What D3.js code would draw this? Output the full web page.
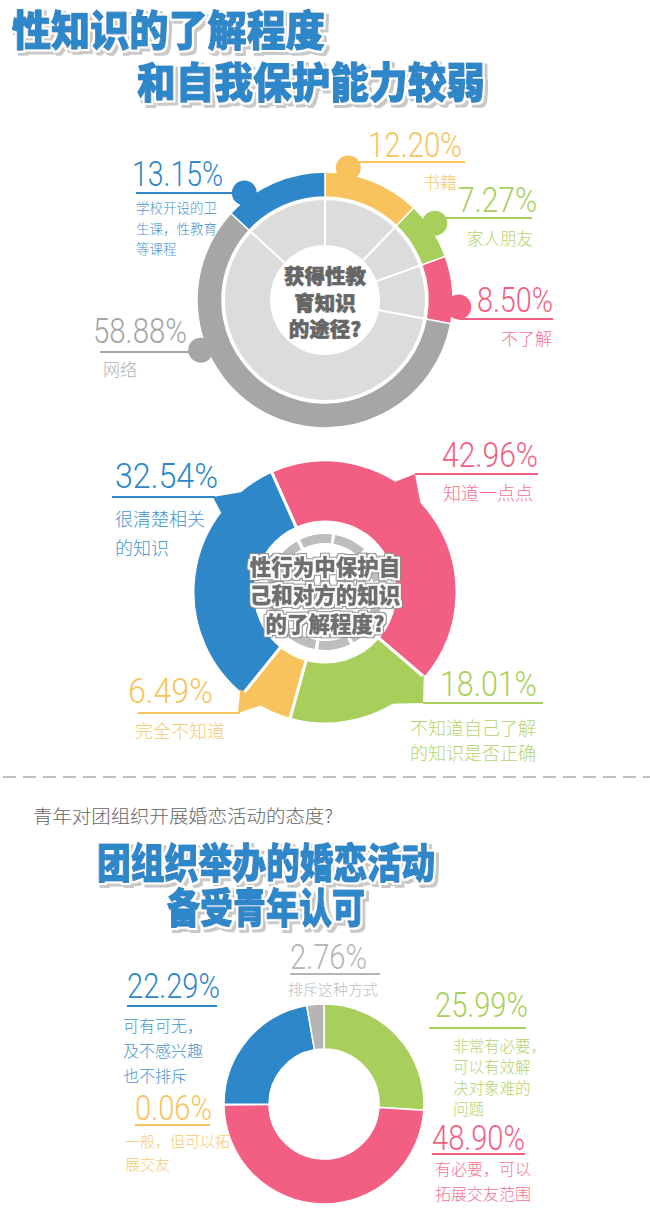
<!DOCTYPE html>
<html><head><meta charset="utf-8">
<script src="https://cdn.jsdelivr.net/npm/d3@7"></script>
<style>body{margin:0;background:#fff}svg{display:block}</style>
</head><body><svg id="c" width="650" height="1220">
<defs>
  <filter id="titleFx" x="-10%" y="-40%" width="120%" height="180%">
    <feMorphology in="SourceAlpha" operator="dilate" radius="2.2" result="d"/>
    <feOffset in="d" dx="2.5" dy="2.5" result="o"/>
    <feFlood flood-color="#c9c9c9"/><feComposite in2="o" operator="in" result="sh"/>
    <feFlood flood-color="#ffffff"/><feComposite in2="d" operator="in" result="wh"/>
    <feMerge><feMergeNode in="sh"/><feMergeNode in="wh"/><feMergeNode in="SourceGraphic"/></feMerge>
  </filter>
  <filter id="centerFx" x="-10%" y="-40%" width="120%" height="180%">
    <feMorphology in="SourceAlpha" operator="dilate" radius="2" result="d1"/>
    <feMorphology in="SourceAlpha" operator="dilate" radius="3" result="d2"/>
    <feFlood flood-color="#8a8a8a"/><feComposite in2="d2" operator="in" result="g"/>
    <feFlood flood-color="#ffffff"/><feComposite in2="d1" operator="in" result="w"/>
    <feMerge><feMergeNode in="g"/><feMergeNode in="w"/><feMergeNode in="SourceGraphic"/></feMerge>
  </filter>
</defs>
</svg>
<script>
// ---------- DATA ----------
const title1 = ["性知识的了解程度", "和自我保护能力较弱"];
const c1Center = ["获得性教", "育知识", "的途径?"];
const c1Categories = ["书籍", "家人朋友", "不了解", "网络", "学校开设的卫生课，性教育等课程"];
const c1Values = [12.20, 7.27, 8.50, 58.88, 13.15];

const c2Center = ["性行为中保护自", "己和对方的知识", "的了解程度?"];
const c2Categories = ["知道一点点", "不知道自己了解的知识是否正确", "完全不知道", "很清楚相关的知识"];
const c2Values = [42.96, 18.01, 6.49, 32.54];

const subtitle = "青年对团组织开展婚恋活动的态度?";
const title2 = ["团组织举办的婚恋活动", "备受青年认可"];
const c3Categories = ["非常有必要，可以有效解决对象难的问题", "有必要，可以拓展交友范围", "一般，但可以拓展交友", "可有可无，及不感兴趣也不排斥", "排斥这种方式"];
const c3Values = [25.99, 48.90, 0.06, 22.29, 2.76];

// ---------- STYLE ----------
const BLUE = "#2d87c9", YELLOW = "#f8c35c", GREEN = "#a8cf5c", PINK = "#f35f83", GREY = "#a6a6a6";
const c1Colors = [YELLOW, GREEN, PINK, GREY, BLUE];
const c2Colors = [PINK, GREEN, YELLOW, BLUE];
const c3Colors = [GREEN, PINK, YELLOW, BLUE, "#b5b5b5"];
const NUMFONT = "Roboto, 'Open Sans', 'DejaVu Sans', sans-serif";
const CJK = "'Noto Sans CJK SC', 'Noto Sans', sans-serif";
const svg = d3.select("#c");
const fmt = v => d3.format(".2f")(v) + "%";
const rad = d => d * Math.PI / 180;
const light = c => d3.interpolateRgb(c, "#ffffff")(0.12);

function wrap(s, n) {
  const out = []; let cur = "";
  for (const ch of s) {
    if (cur.length >= n && !"，,、。".includes(ch)) { out.push(cur); cur = ""; }
    cur += ch;
  }
  if (cur) out.push(cur);
  return out;
}

function bigTitle(lines, specs, fs) {
  lines.forEach((t, i) => {
    const s = specs[i];
    svg.append("text").attr("x", s.x).attr("y", s.cy)
      .attr("dominant-baseline", "central").attr("font-family", CJK).attr("font-weight", 900)
      .attr("font-size", fs).attr("textLength", s.w).attr("lengthAdjust", "spacingAndGlyphs")
      .attr("fill", BLUE).attr("stroke", BLUE).attr("stroke-width", 1.2).attr("stroke-linejoin", "round")
      .attr("filter", "url(#titleFx)").text(t);
  });
}

function pctText(v, L, color) {
  svg.append("text").attr("x", L.x).attr("y", L.y)
    .attr("font-family", NUMFONT).attr("font-weight", 300).attr("font-size", 35)
    .attr("fill", color).attr("textLength", L.w).attr("lengthAdjust", "spacingAndGlyphs")
    .text(fmt(v));
}

function subText(label, S, color) {
  const lines = S.wrap ? wrap(label, S.wrap) : [label];
  lines.forEach((t, i) => {
    svg.append("text").attr("x", S.x).attr("y", S.y + i * (S.lh || 0))
      .attr("dominant-baseline", "central").attr("text-anchor", S.anchor || "start")
      .attr("font-family", CJK).attr("font-weight", 300).attr("font-size", S.fs)
      .attr("fill", light(color)).text(t);
  });
}

function hline(x1, x2, y, color) {
  svg.append("line").attr("x1", x1).attr("x2", x2).attr("y1", y).attr("y2", y)
    .attr("stroke", color).attr("stroke-width", 2.2);
}

// ---------- TITLE 1 ----------
bigTitle(title1, [{x: 12, cy: 27, w: 313}, {x: 137, cy: 79, w: 348}], 42);

// ---------- CHART 1 ----------
{
  const cx = 325, cy = 300, R = 128, r = 103;
  const g = svg.append("g").attr("transform", `translate(${cx},${cy})`);
  const arcs = d3.pie().sort(null).value(d => d)(c1Values);
  const layout = [
    {num: {x: 368, y: 157, w: 94}, line: {y: 162, x2: 465}, knob: 10, sub: {x: 457, y: 181, fs: 17, anchor: "end"}},
    {num: {x: 458, y: 212, w: 79}, line: {y: 218, x2: 532}, knob: 55, sub: {x: 533, y: 238, fs: 16.5, anchor: "end"}},
    {num: {x: 477, y: 312, w: 76}, line: {y: 319, x2: 553}, knob: 93, sub: {x: 552, y: 337, fs: 17, anchor: "end"}},
    {num: {x: 93, y: 343, w: 94}, line: {y: 352, x1: 100}, knob: 248, sub: {x: 103, y: 368, fs: 17}},
    {num: {x: 132, y: 186, w: 91}, line: {y: 193, x1: 136}, knob: 323, sub: {x: 136, y: 207, fs: 13.5, wrap: 6, lh: 20.5}}
  ];
  arcs.forEach((a, i) => {
    const L = layout[i], col = c1Colors[i];
    const kx = cx + (R + 6) * Math.sin(rad(L.knob)), ky = cy - (R + 6) * Math.cos(rad(L.knob));
    hline(L.line.x1 !== undefined ? L.line.x1 : kx, L.line.x2 !== undefined ? L.line.x2 : kx, L.line.y, col);
    svg.append("circle").attr("cx", kx).attr("cy", ky).attr("r", 12.5).attr("fill", col);
  });
  g.selectAll("path.in").data(arcs).join("path").attr("class", "in")
    .attr("d", d3.arc().innerRadius(54).outerRadius(101))
    .attr("fill", "#dcdcdc").attr("stroke", "#fff").attr("stroke-width", 2);
  g.selectAll("path.out").data(arcs).join("path").attr("class", "out")
    .attr("d", d3.arc().innerRadius(r).outerRadius(R))
    .attr("fill", (d, i) => c1Colors[i]).attr("stroke", "#fff").attr("stroke-width", 1.5);
  arcs.forEach((a, i) => {
    pctText(a.data, layout[i].num, c1Colors[i]);
    subText(c1Categories[i], layout[i].sub, c1Colors[i]);
  });
  c1Center.forEach((t, i) => {
    svg.append("text").attr("x", cx).attr("y", 275 + i * 26.5).attr("text-anchor", "middle")
      .attr("dominant-baseline", "central").attr("font-family", CJK).attr("font-weight", 900)
      .attr("font-size", 20.5).attr("fill", "#666").attr("stroke", "#666").attr("stroke-width", 0.6).text(t);
  });
}

// ---------- CHART 2 ----------
{
  const cx = 325, cy = 592, R = 132, r = 70;
  const start = rad(-24);
  const g = svg.append("g").attr("transform", `translate(${cx},${cy})`);
  const arcs = d3.pie().sort(null).value(d => d).startAngle(start).endAngle(start + 2 * Math.PI)(c2Values);
  const layout = [
    {num: {x: 442, y: 467, w: 96}, line: {y: 474, x1: 415, x2: 538}, tab: {a: 40, w: 8, tip: [415, 474]}, sub: {x: 443, y: 492, fs: 18}},
    {num: {x: 440, y: 696, w: 97}, line: {y: 703, x1: 423, x2: 543}, tab: {a: 140, w: 10, tip: [423, 703]}, sub: {x: 410, y: 727, fs: 18, wrap: 7, lh: 25}},
    {num: {x: 128, y: 703, w: 85}, line: {y: 713, x1: 138, x2: 240}, tab: {a: 215, w: 6, tip: [238, 713]}, sub: {x: 135, y: 730, fs: 18}},
    {num: {x: 115, y: 488, w: 103}, line: {y: 497, x1: 112, x2: 215}, tab: {a: 314, w: 7, tip: [213, 497]}, sub: {x: 115, y: 518, fs: 18, wrap: 5, lh: 29}}
  ];
  arcs.forEach((a, i) => {
    const L = layout[i], col = c2Colors[i];
    hline(L.line.x1, L.line.x2, L.line.y, col);
    const p = ang => [cx + (R - 3) * Math.sin(rad(ang)), cy - (R - 3) * Math.cos(rad(ang))];
    svg.append("polygon").attr("points", [p(L.tab.a - L.tab.w), L.tab.tip, p(L.tab.a + L.tab.w)].map(q => q.join(",")).join(" "))
      .attr("fill", col);
  });
  g.selectAll("path").data(arcs).join("path")
    .attr("d", d3.arc().innerRadius(r).outerRadius(R))
    .attr("fill", (d, i) => c2Colors[i]).attr("stroke", "#fff").attr("stroke-width", 3);
  const rr = 53.5, circ = 2 * Math.PI * rr;
  g.append("circle").attr("r", rr).attr("fill", "none").attr("stroke", "#bdbdbd").attr("stroke-width", 9)
    .attr("stroke-dasharray", `${circ / 10 - 3.5},3.5`).attr("transform", "rotate(-80)");
  arcs.forEach((a, i) => {
    pctText(a.data, layout[i].num, c2Colors[i]);
    subText(c2Categories[i], layout[i].sub, c2Colors[i]);
  });
  c2Center.forEach((t, i) => {
    svg.append("text").attr("x", cx).attr("y", 565 + i * 28.5).attr("text-anchor", "middle")
      .attr("dominant-baseline", "central").attr("font-family", CJK).attr("font-weight", 900)
      .attr("font-size", 21.5).attr("fill", "#6e6e6e").attr("stroke", "#6e6e6e").attr("stroke-width", 0.5)
      .attr("filter", "url(#centerFx)").text(t);
  });
}

// ---------- DIVIDER ----------
svg.append("line").attr("x1", 3).attr("x2", 650).attr("y1", 777).attr("y2", 777)
  .attr("stroke", "#aaa").attr("stroke-width", 1.6).attr("stroke-dasharray", "13,7");

svg.append("text").attr("x", 33).attr("y", 815).attr("dominant-baseline", "central")
  .attr("font-family", CJK).attr("font-weight", 300).attr("font-size", 18).attr("fill", "#666")
  .attr("textLength", 300).attr("lengthAdjust", "spacingAndGlyphs").text(subtitle);

bigTitle(title2, [{x: 97, cy: 860, w: 338}, {x: 167, cy: 905, w: 198}], 41);

// ---------- CHART 3 ----------
{
  const cx = 324, cy = 1104, R = 100, r = 55;
  const g = svg.append("g").attr("transform", `translate(${cx},${cy})`);
  const arcs = d3.pie().sort(null).value(d => d)(c3Values);
  const layout = [
    {num: {x: 435, y: 1017, w: 93}, line: {y: 1028, x1: 429, x2: 526}, sub: {x: 453, y: 1045, fs: 15.5, wrap: 5, lh: 21}},
    {num: {x: 432, y: 1150, w: 93}, line: {y: 1154, x1: 432, x2: 525}, sub: {x: 435, y: 1168, fs: 16, wrap: 6, lh: 25}},
    {num: {x: 135, y: 1120, w: 77}, line: {y: 1125, x1: 135, x2: 210}, sub: {x: 125, y: 1140, fs: 15, wrap: 7, lh: 23}},
    {num: {x: 127, y: 998, w: 93}, line: {y: 1006, x1: 127, x2: 217}, sub: {x: 123, y: 1025, fs: 16, wrap: 5, lh: 25}},
    {num: {x: 290, y: 969, w: 77}, line: {y: 974, x1: 290, x2: 380}, sub: {x: 288, y: 988, fs: 15}}
  ];
  g.selectAll("path").data(arcs).join("path")
    .attr("d", d3.arc().innerRadius(r).outerRadius(R))
    .attr("fill", (d, i) => c3Colors[i]).attr("stroke", "#fff").attr("stroke-width", 1.5);
  arcs.forEach((a, i) => {
    const L = layout[i], col = c3Colors[i];
    hline(L.line.x1, L.line.x2, L.line.y, col);
    pctText(a.data, L.num, col);
    subText(c3Categories[i], L.sub, col);
  });
}
</script>
</body></html>
